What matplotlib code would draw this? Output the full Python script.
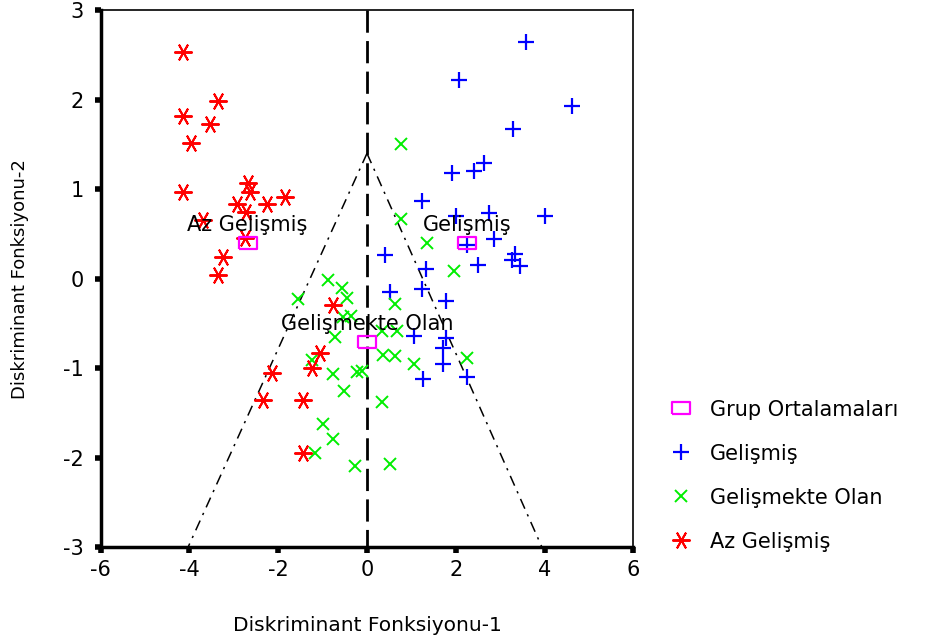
import numpy as np
import matplotlib
matplotlib.use('Agg')
import matplotlib.pyplot as plt

plt.rcParams['font.family'] = ['DejaVu Sans']
plt.rcParams['axes.unicode_minus'] = False

# Gelişmiş (blue +)
gelismis_x = [3.59, 2.08, 4.62, 3.29, 2.64, 2.40, 1.91, 1.23, 2.01, 2.74, 4.02, 2.87,
              2.25, 0.41, 3.34, 3.27, 3.45, 2.51, 1.33, 0.52, 1.23, 1.78, 1.05, 1.78,
              1.72, 1.72, 1.26, 2.26]
gelismis_y = [2.65, 2.22, 1.93, 1.67, 1.29, 1.20, 1.18, 0.87, 0.70, 0.73, 0.70, 0.44,
              0.38, 0.26, 0.28, 0.21, 0.14, 0.15, 0.11, -0.15, -0.12, -0.25, -0.64, -0.66,
              -0.77, -0.95, -1.12, -1.10]

# Gelişmekte Olan (green x)
gelismekte_x = [0.76, 0.76, 1.35, 1.96, -0.87, -0.57, -0.46, -1.55, -0.53, -0.35, -0.71,
                -1.25, -0.76, -0.23, -0.12, -0.52, -0.99, -0.76, -1.17, -0.27, 0.63, 0.33,
                0.68, 0.37, 0.63, 1.06, 2.26, 0.33, 0.52]
gelismekte_y = [1.50, 0.67, 0.40, 0.09, -0.01, -0.11, -0.22, -0.23, -0.43, -0.42, -0.65,
                -0.91, -1.07, -1.04, -1.03, -1.26, -1.63, -1.79, -1.95, -2.10, -0.28, -0.59,
                -0.59, -0.85, -0.87, -0.95, -0.89, -1.38, -2.07]

# Az Gelişmiş (red asterisk)
az_x = [-4.15, -3.36, -4.15, -3.54, -3.96, -4.15, -2.68, -2.64, -1.85, -2.94, -2.26, -2.72,
        -3.70, -2.75, -3.24, -3.36, -0.76, -1.06, -2.15, -1.25, -2.34, -1.44, -1.44]
az_y = [2.53, 1.99, 1.82, 1.73, 1.52, 0.97, 1.07, 0.97, 0.91, 0.83, 0.83, 0.74,
        0.66, 0.45, 0.24, 0.04, -0.30, -0.83, -1.05, -1.00, -1.36, -1.36, -1.95]

# Grup ortalamaları
merkez_ad = ['Az Gelişmiş', 'Gelişmiş', 'Gelişmekte Olan']
merkez_x = [-2.69, 2.26, 0.0]
merkez_y = [0.40, 0.40, -0.71]

# sınır çizgileri (territorial map)
tepe = (0.0, 1.40)
sol_alt = (-4.03, -3.0)
sag_alt = (3.94, -3.0)

fig = plt.figure(figsize=(9.41, 6.38), dpi=100)
ax = fig.add_axes([0.107, 0.1426, 0.566, 0.8414])

ax.plot([0, 0], [3, -3], color='black', lw=2.0, linestyle=(0, (8, 3)), zorder=1)
ax.plot([tepe[0], sol_alt[0]], [tepe[1], sol_alt[1]], color='black', lw=1.1,
        linestyle=(0, (7, 4, 1.5, 4)), zorder=1)
ax.plot([tepe[0], sag_alt[0]], [tepe[1], sag_alt[1]], color='black', lw=1.1,
        linestyle=(0, (7, 4, 1.5, 4)), zorder=1)

rect = [(-1.5, -1), (1.5, -1), (1.5, 1), (-1.5, 1), (-1.5, -1)]
ax.plot(merkez_x, merkez_y, linestyle='none', marker=rect, markersize=13,
        markerfacecolor='none', markeredgecolor='#ff00ff', markeredgewidth=1.6,
        label='Grup Ortalamaları', zorder=3)
ax.plot(gelismis_x, gelismis_y, linestyle='none', marker='+', markersize=12,
        color='#0000ff', markeredgewidth=1.6, label='Gelişmiş', zorder=2)
ax.plot(gelismekte_x, gelismekte_y, linestyle='none', marker='x', markersize=9,
        color='#00ee00', markeredgewidth=1.4, label='Gelişmekte Olan', zorder=2)
ax.plot(az_x, az_y, linestyle='none', marker=(6, 2, 90), markersize=13,
        color='#ff0000', markeredgewidth=1.4, label='Az Gelişmiş', zorder=2)

for ad, mx, my in zip(merkez_ad, merkez_x, merkez_y):
    ax.text(mx, my + 0.2, ad, ha='center', va='center', fontsize=15, zorder=4)

ax.set_xlim(-6, 6)
ax.set_ylim(-3, 3)
ax.set_xticks(np.arange(-6, 7, 2))
ax.set_yticks(np.arange(-3, 4, 1))
ax.tick_params(direction='out', length=4, width=4, labelsize=15, pad=5)
ax.tick_params(axis='y', pad=8)
ax.spines['left'].set_linewidth(2.5)
ax.spines['bottom'].set_linewidth(2.5)
ax.spines['top'].set_linewidth(1.2)
ax.spines['right'].set_linewidth(1.2)

ax.set_xlabel('Diskriminant Fonksiyonu-1', fontsize=14.5, labelpad=26)
ax.set_ylabel('Diskriminant Fonksiyonu-2', fontsize=13, labelpad=25)

ax.legend(loc='upper left', bbox_to_anchor=(1.05, 0.29), frameon=False, fontsize=15,
          labelspacing=1.15, handlelength=1.2, handletextpad=0.8, borderaxespad=0)

fig.savefig('out.png', dpi=100)
